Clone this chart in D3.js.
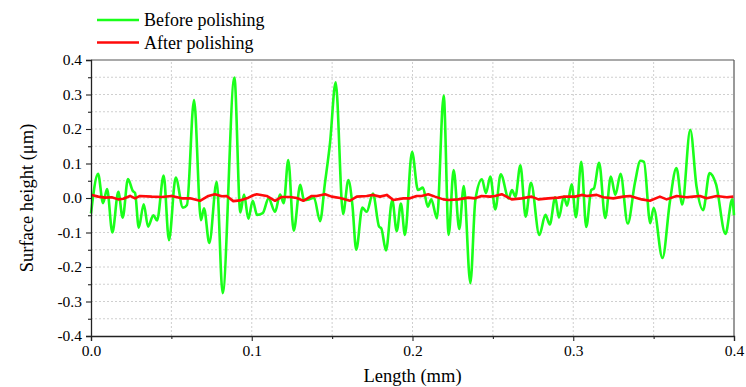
<!DOCTYPE html>
<html><head><meta charset="utf-8">
<script src="https://cdn.jsdelivr.net/npm/d3@7"></script>
<style>body{margin:0;background:#fff}</style>
</head><body>
<svg id="c" width="746" height="387"></svg>
<script>
const seriesNames = ["Before polishing", "After polishing"];
const beforeX = [0.0000,0.0044,0.0075,0.0100,0.0133,0.0170,0.0197,0.0230,0.0261,0.0274,0.0297,0.0328,0.0355,0.0388,0.0411,0.0452,0.0485,0.0527,0.0572,0.0597,0.0641,0.0684,0.0703,0.0736,0.0782,0.0819,0.0892,0.0929,0.0952,0.0979,0.1006,0.1033,0.1068,0.1105,0.1145,0.1176,0.1199,0.1227,0.1261,0.1302,0.1325,0.1356,0.1387,0.1425,0.1454,0.1487,0.1522,0.1568,0.1601,0.1626,0.1650,0.1688,0.1715,0.1754,0.1792,0.1806,0.1835,0.1874,0.1902,0.1928,0.1953,0.1997,0.2034,0.2065,0.2095,0.2117,0.2152,0.2194,0.2225,0.2256,0.2291,0.2319,0.2360,0.2391,0.2432,0.2457,0.2484,0.2515,0.2549,0.2598,0.2619,0.2640,0.2671,0.2704,0.2737,0.2789,0.2827,0.2854,0.2888,0.2911,0.2941,0.2962,0.2990,0.3017,0.3050,0.3081,0.3112,0.3129,0.3161,0.3199,0.3234,0.3262,0.3294,0.3339,0.3384,0.3418,0.3440,0.3479,0.3500,0.3555,0.3602,0.3642,0.3678,0.3728,0.3767,0.3808,0.3848,0.3888,0.3947,0.3989,0.4000];
const beforeY = [-0.045,0.070,-0.015,0.026,-0.100,0.018,-0.057,0.055,0.020,0.015,-0.086,-0.018,-0.083,-0.050,-0.065,0.065,-0.122,0.059,-0.028,-0.020,0.284,-0.064,-0.030,-0.130,0.047,-0.276,0.349,-0.042,0.010,-0.060,-0.008,-0.049,-0.044,-0.001,-0.040,0.010,-0.015,0.110,-0.095,0.038,-0.006,-0.004,0.001,-0.067,0.038,0.160,0.335,-0.046,0.052,-0.020,-0.150,-0.028,-0.040,0.013,-0.083,-0.088,-0.152,-0.006,-0.096,-0.016,-0.107,0.134,0.023,0.030,-0.025,-0.004,-0.059,0.297,-0.107,0.081,-0.090,0.035,-0.247,-0.006,0.054,0.014,0.062,-0.033,0.069,-0.001,0.023,0.004,0.095,-0.054,0.044,-0.107,-0.049,-0.077,0.002,-0.057,0.004,-0.022,0.040,-0.056,0.105,-0.084,0.023,0.028,0.102,-0.058,0.062,0.009,0.070,-0.074,0.045,0.108,0.105,-0.073,-0.029,-0.174,-0.008,0.087,-0.019,0.198,0.033,-0.035,0.072,0.040,-0.104,-0.004,-0.050];
const afterX = [0.0004,0.0045,0.0087,0.0129,0.0170,0.0201,0.0243,0.0274,0.0305,0.0378,0.0440,0.0502,0.0564,0.0616,0.0678,0.0730,0.0771,0.0813,0.0844,0.0885,0.0927,0.0979,0.1010,0.1031,0.1093,0.1145,0.1186,0.1238,0.1280,0.1321,0.1373,0.1404,0.1456,0.1497,0.1549,0.1611,0.1653,0.1715,0.1756,0.1798,0.1840,0.1881,0.1943,0.1984,0.2026,0.2057,0.2098,0.2140,0.2192,0.2223,0.2285,0.2347,0.2389,0.2430,0.2482,0.2513,0.2555,0.2617,0.2679,0.2741,0.2783,0.2845,0.2907,0.2949,0.3011,0.3053,0.3084,0.3146,0.3187,0.3249,0.3311,0.3353,0.3426,0.3477,0.3539,0.3581,0.3643,0.3705,0.3747,0.3788,0.3830,0.3892,0.3955,0.3996];
const afterY = [0.009,0.004,0.001,0.002,-0.004,-0.002,0.006,-0.001,0.006,0.004,0.003,0.006,-0.001,-0.001,-0.008,0.006,0.011,0.005,0.006,-0.009,-0.007,0.001,0.008,0.011,0.006,-0.008,0.003,0.003,0.000,-0.008,0.006,0.006,0.011,0.004,0.000,-0.008,0.004,0.006,0.009,0.004,0.009,-0.006,-0.001,-0.001,0.006,0.006,0.011,0.004,-0.004,-0.006,-0.004,0.001,-0.001,0.006,0.004,0.006,0.011,-0.004,-0.001,0.004,-0.004,-0.001,0.001,0.004,0.004,0.009,0.006,0.009,0.002,-0.001,0.004,0.006,-0.004,-0.008,0.004,-0.004,0.006,0.002,0.004,0.006,-0.001,0.006,0.002,0.004];
const xTickValues = [0, 0.1, 0.2, 0.3, 0.4];
const xTickLabels = ["0.0", "0.1", "0.2", "0.3", "0.4"];
const yTickValues = [-0.4, -0.3, -0.2, -0.1, 0, 0.1, 0.2, 0.3, 0.4];
const yTickLabels = ["-0.4", "-0.3", "-0.2", "-0.1", "0.0", "0.1", "0.2", "0.3", "0.4"];
const xMinor = [0.05, 0.15, 0.25, 0.35];
const yMinor = [-0.35, -0.25, -0.15, -0.05, 0.05, 0.15, 0.25, 0.35];
const xLabel = "Length (mm)";
const yLabel = "Surface height (μm)";

const FONT = "Liberation Serif, Times New Roman, serif";
const W = 746, H = 387;
const m = {left: 91, right: 12, top: 60, bottom: 51};
const svg = d3.select("#c");
const x = d3.scaleLinear().domain([0, 0.4]).range([m.left, W - m.right]);
const y = d3.scaleLinear().domain([-0.4, 0.4]).range([H - m.bottom, m.top]);

// grid
const grid = svg.append("g").attr("stroke", "#cfcfcf").attr("stroke-width", 1).attr("stroke-dasharray", "2,2");
xTickValues.concat(xMinor).forEach(v => {
  if (v > 0 && v < 0.4) grid.append("line").attr("x1", x(v)).attr("x2", x(v)).attr("y1", y(-0.4)).attr("y2", y(0.4));
});
yTickValues.concat(yMinor).forEach(v => {
  if (v > -0.4 && v < 0.4) grid.append("line").attr("x1", x(0)).attr("x2", x(0.4)).attr("y1", y(v)).attr("y2", y(v));
});

// frame top/right
svg.append("line").attr("x1", x(0)).attr("x2", x(0.4)).attr("y1", y(0.4)).attr("y2", y(0.4)).attr("stroke", "#555").attr("stroke-width", 1.2);
svg.append("line").attr("x1", x(0.4)).attr("x2", x(0.4)).attr("y1", y(0.4)).attr("y2", y(-0.4)).attr("stroke", "#555").attr("stroke-width", 1.2);

// lines
const line = d3.line().x(d => x(d[0])).y(d => y(d[1])).curve(d3.curveMonotoneX);
svg.append("path").datum(beforeX.map((v, i) => [v, beforeY[i]]))
  .attr("d", line).attr("fill", "none").attr("stroke", "#1aff1a").attr("stroke-width", 2.6).attr("stroke-linejoin", "round");
svg.append("path").datum(afterX.map((v, i) => [v, afterY[i]]))
  .attr("d", d3.line().x(d => x(d[0])).y(d => y(d[1])))
  .attr("fill", "none").attr("stroke", "#ff0a0a").attr("stroke-width", 2.6).attr("stroke-linejoin", "round");

// axes
svg.append("g").attr("transform", `translate(0,${y(-0.4)})`)
  .call(d3.axisBottom(x).tickValues(xTickValues).tickFormat((d, i) => xTickLabels[i]).tickSize(5).tickPadding(4));
svg.append("g").attr("transform", `translate(0,${y(-0.4)})`)
  .call(d3.axisBottom(x).tickValues(xMinor).tickFormat("").tickSize(3)).select(".domain").remove();
svg.append("g").attr("transform", `translate(${x(0)},0)`)
  .call(d3.axisLeft(y).tickValues(yTickValues).tickFormat((d, i) => yTickLabels[i]).tickSize(5).tickPadding(4));
svg.append("g").attr("transform", `translate(${x(0)},0)`)
  .call(d3.axisLeft(y).tickValues(yMinor).tickFormat("").tickSize(3)).select(".domain").remove();
svg.selectAll(".domain").attr("stroke", "#222").attr("stroke-width", 1.3);
svg.selectAll(".tick line").attr("stroke", "#222").attr("stroke-width", 1.1);
svg.selectAll("g").attr("font-family", FONT);
svg.selectAll(".tick text").attr("font-family", FONT).attr("font-size", 15.5).attr("fill", "#000");

// axis titles
svg.append("text").attr("x", x(0.2)).attr("y", 382).attr("text-anchor", "middle")
  .attr("font-family", FONT).attr("font-size", 18.5).text(xLabel);
svg.append("text").attr("transform", `translate(33,${y(0)}) rotate(-90)`).attr("text-anchor", "middle")
  .attr("font-family", FONT).attr("font-size", 18.5).text(yLabel);

// legend
const colors = ["#1aff1a", "#ff0a0a"];
seriesNames.forEach((n, i) => {
  const ly = 20 + i * 22.5;
  svg.append("line").attr("x1", 97).attr("x2", 139).attr("y1", ly).attr("y2", ly).attr("stroke", colors[i]).attr("stroke-width", 2.6);
  svg.append("text").attr("x", 144).attr("y", ly + 6).attr("font-family", FONT).attr("font-size", 18).text(n);
});
</script>
</body></html>
